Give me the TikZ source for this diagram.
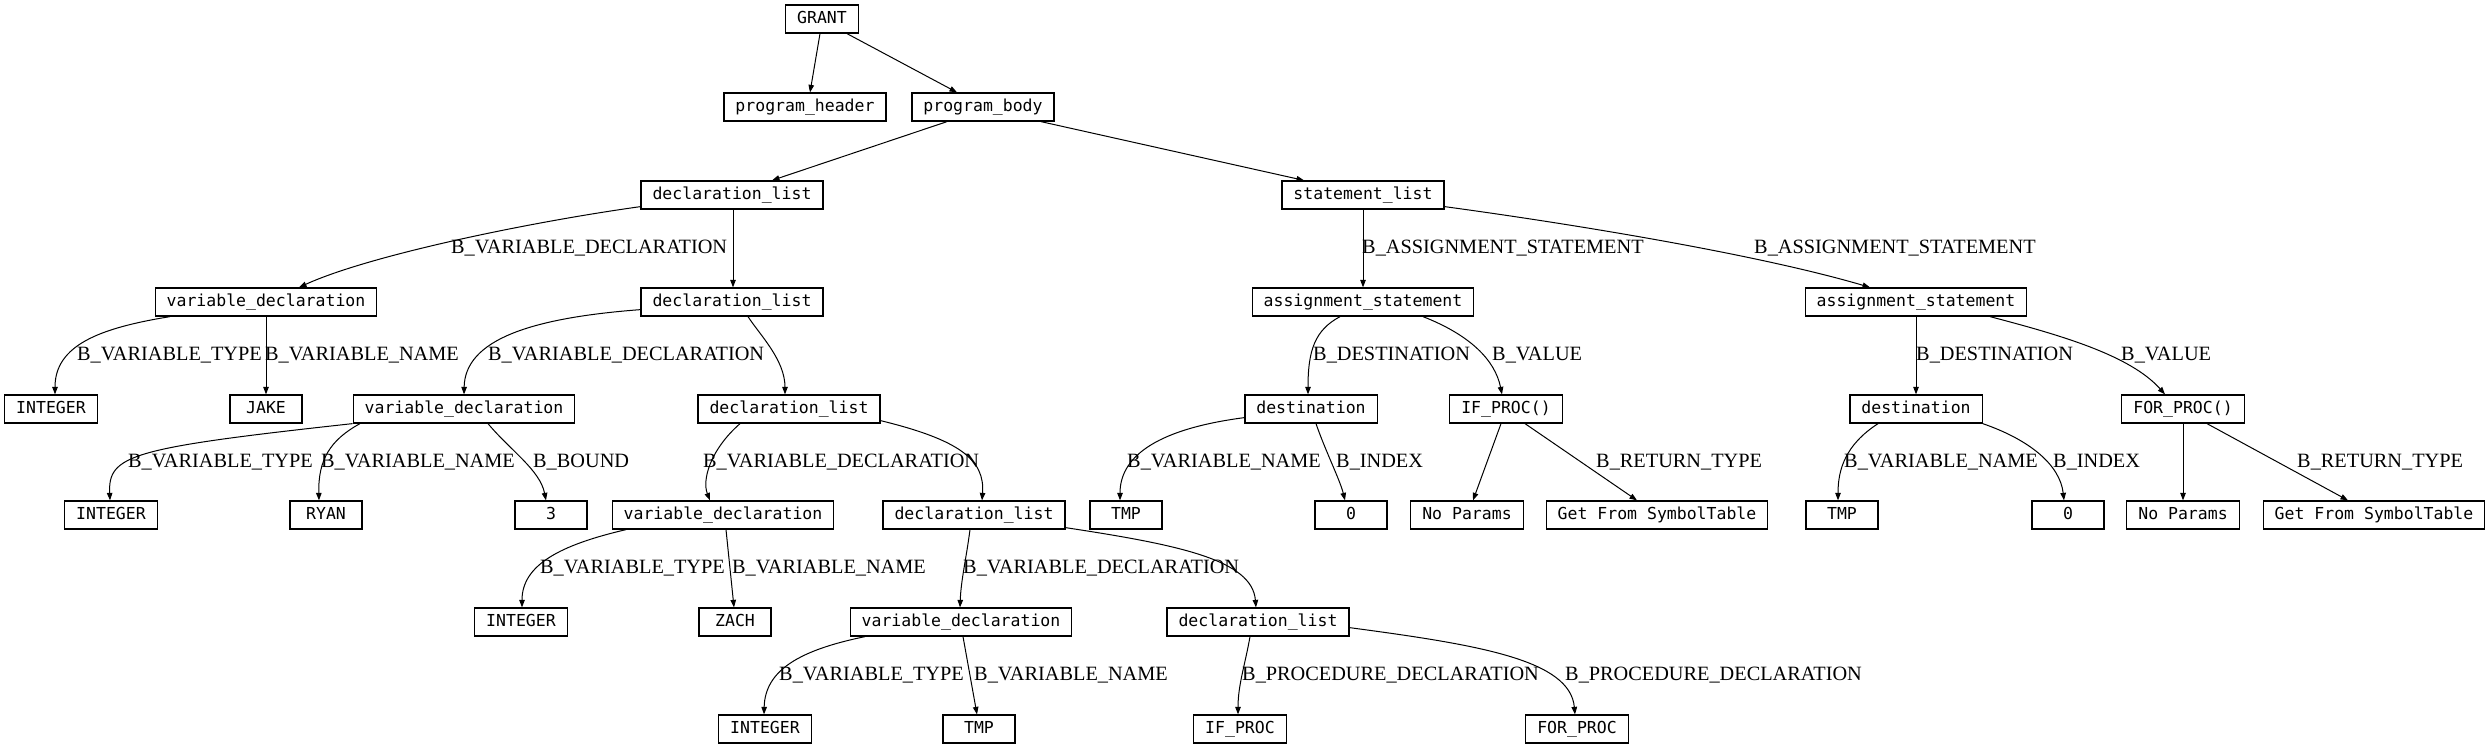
\documentclass[tikz,border=0pt]{standalone}
\usepackage{fontspec}
\setmainfont{Liberation Serif}
\newfontfamily\monofont{DejaVu Sans Mono}
\usetikzlibrary{arrows.meta}
\tikzset{
 tn/.style={draw, line width=1.25pt, rectangle, minimum width=72pt, minimum height=28pt, inner xsep=11.5pt, inner ysep=0pt, font=\monofont\fontsize{16.5}{20}\selectfont, text height=12pt, text depth=4pt},
 lbl/.style={anchor=base west, inner sep=0pt, font=\fontsize{20.3}{24}\selectfont},
 edge/.style={line width=1pt, -{Triangle[length=7.5pt,width=5.5pt]}},
}
\begin{document}
\begin{tikzpicture}[x=1pt,y=-1pt]
\useasboundingbox (0,0) rectangle (2492,748);
% nodes
\node[tn] (grant) at (822,19) {GRANT};
\node[tn] (ph) at (805,107) {program\_header};
\node[tn] (pb) at (983,107) {program\_body};
\node[tn] (dl1) at (732,195) {declaration\_list};
\node[tn] (sl) at (1363,195) {statement\_list};
\node[tn] (vd1) at (266,302) {variable\_declaration};
\node[tn] (dl2) at (732,302) {declaration\_list};
\node[tn] (as1) at (1363,302) {assignment\_statement};
\node[tn] (as2) at (1916,302) {assignment\_statement};
\node[tn] (int1) at (51,409) {INTEGER};
\node[tn] (jake) at (266,409) {JAKE};
\node[tn] (vd2) at (464,409) {variable\_declaration};
\node[tn] (dl3) at (789,409) {declaration\_list};
\node[tn] (dest1) at (1311,409) {destination};
\node[tn] (ifp) at (1506,409) {IF\_PROC()};
\node[tn] (dest2) at (1916,409) {destination};
\node[tn] (forp) at (2183,409) {FOR\_PROC()};
\node[tn] (int2) at (111,515) {INTEGER};
\node[tn] (ryan) at (326,515) {RYAN};
\node[tn] (three) at (551,515) {3};
\node[tn] (vd3) at (723,515) {variable\_declaration};
\node[tn] (dl4) at (974,515) {declaration\_list};
\node[tn] (tmp1) at (1126,515) {TMP};
\node[tn] (zero1) at (1351,515) {0};
\node[tn] (np1) at (1467,515) {No Params};
\node[tn] (gfst1) at (1657,515) {Get From SymbolTable};
\node[tn] (tmp2) at (1842,515) {TMP};
\node[tn] (zero2) at (2068,515) {0};
\node[tn] (np2) at (2183,515) {No Params};
\node[tn] (gfst2) at (2374,515) {Get From SymbolTable};
\node[tn] (int3) at (521,622) {INTEGER};
\node[tn] (zach) at (735,622) {ZACH};
\node[tn] (vd4) at (961,622) {variable\_declaration};
\node[tn] (dl5) at (1258,622) {declaration\_list};
\node[tn] (int4) at (765,729) {INTEGER};
\node[tn] (tmp3) at (979,729) {TMP};
\node[tn] (ifproc) at (1240,729) {IF\_PROC};
\node[tn] (forproc) at (1577,729) {FOR\_PROC};
% edges
\draw[edge] ([xshift=-2pt]grant.south) -- ([xshift=5pt]ph.north);
\draw[edge] ([xshift=25pt]grant.south) -- ([xshift=-26pt]pb.north);
\draw[edge] ([xshift=-36pt]pb.south) -- ([xshift=40pt]dl1.north);
\draw[edge] ([xshift=58pt]pb.south) -- ([xshift=-59pt]sl.north);
\draw[edge] ([yshift=3pt]dl1.south west) .. controls (530,222) and (370,255) .. ([xshift=33pt]vd1.north);
\draw[edge] ([xshift=1pt]dl1.south) -- ([xshift=1pt]dl2.north);
\draw[edge] ([xshift=-96pt]vd1.south) .. controls (100,328) and (55,345) .. ([xshift=4pt]int1.north);
\draw[edge] (vd1.south) -- (jake.north);
\draw[edge] ([yshift=7pt]dl2.south west) .. controls (530,318) and (465,340) .. (vd2.north);
\draw[edge] ([xshift=16pt]dl2.south) .. controls (760,335) and (785,360) .. ([xshift=-4pt]dl3.north);
\draw[edge] (vd2.south west) .. controls (130,448) and (108,455) .. ([xshift=-1pt]int2.north);
\draw[edge] ([xshift=-104pt]vd2.south) .. controls (330,440) and (318,460) .. ([xshift=-7pt]ryan.north);
\draw[edge] ([xshift=24pt]vd2.south) .. controls (510,450) and (540,470) .. ([xshift=-5pt]three.north);
\draw[edge] ([xshift=-49pt]dl3.south) .. controls (710,450) and (702,480) .. ([xshift=-13pt]vd3.north);
\draw[edge] ([yshift=3pt]dl3.south east) .. controls (960,440) and (985,460) .. ([xshift=8pt]dl4.north);
\draw[edge] ([xshift=-97pt]vd3.south) .. controls (560,545) and (522,565) .. ([xshift=1pt]int3.north);
\draw[edge] ([xshift=3pt]vd3.south) -- ([xshift=-1pt]zach.north);
\draw[edge] ([xshift=-4pt]dl4.south) .. controls (966,560) and (961,580) .. ([xshift=-1pt]vd4.north);
\draw[edge] ([yshift=2pt]dl4.south east) .. controls (1180,545) and (1252,560) .. ([xshift=-2pt]dl5.north);
\draw[edge] ([xshift=-96pt]vd4.south) .. controls (800,650) and (765,670) .. ([xshift=-1pt]int4.north);
\draw[edge] ([xshift=2pt]vd4.south) -- ([xshift=-2pt]tmp3.north);
\draw[edge] ([xshift=-8pt]dl5.south) .. controls (1245,665) and (1238,685) .. ([xshift=-2pt]ifproc.north);
\draw[edge] ([yshift=9pt]dl5.south east) .. controls (1480,645) and (1570,660) .. ([xshift=-2pt]forproc.north);
\draw[edge] (sl.south) -- (as1.north);
\draw[edge] ([yshift=3pt]sl.south east) .. controls (1580,225) and (1760,255) .. ([xshift=-46pt]as2.north);
\draw[edge] ([xshift=-23pt]as1.south) .. controls (1315,330) and (1308,350) .. ([xshift=-3pt]dest1.north);
\draw[edge] ([xshift=60pt]as1.south) .. controls (1470,335) and (1495,360) .. ([xshift=-4pt]ifp.north);
\draw[edge] (as2.south) -- (dest2.north);
\draw[edge] ([xshift=74pt]as2.south) .. controls (2060,335) and (2130,355) .. ([xshift=-18pt]forp.north);
\draw[edge] ([yshift=6pt]dest1.south west) .. controls (1150,430) and (1120,460) .. ([xshift=-6pt]tmp1.north);
\draw[edge] ([xshift=5pt]dest1.south) .. controls (1325,450) and (1340,480) .. ([xshift=-6pt]zero1.north);
\draw[edge] ([xshift=-5pt]ifp.south) -- ([xshift=6pt]np1.north);
\draw[edge] ([xshift=19pt]ifp.south) -- ([xshift=-20pt]gfst1.north);
\draw[edge] ([xshift=-38pt]dest2.south) .. controls (1845,445) and (1838,470) .. ([xshift=-4pt]tmp2.north);
\draw[edge] (dest2.south east) .. controls (2030,440) and (2060,465) .. ([xshift=-4pt]zero2.north);
\draw[edge] (forp.south) -- (np2.north);
\draw[edge] ([xshift=24pt]forp.south) -- ([xshift=-26pt]gfst2.north);
% labels
\node[lbl] (la1) at (451,253) {B\_VARIABLE\_DECLARATION};
\node[lbl] (la2) at (1362,253) {B\_ASSIGNMENT\_STATEMENT};
\node[lbl] (la3) at (1754,253) {B\_ASSIGNMENT\_STATEMENT};
\node[lbl] (lb1) at (77,360) {B\_VARIABLE\_TYPE};
\node[lbl] (lb2) at (265,360) {B\_VARIABLE\_NAME};
\node[lbl] (lb3) at (488,360) {B\_VARIABLE\_DECLARATION};
\node[lbl] (lb4) at (1313,360) {B\_DESTINATION};
\node[lbl] (lb5) at (1492,360) {B\_VALUE};
\node[lbl] (lb6) at (1916,360) {B\_DESTINATION};
\node[lbl] (lb7) at (2121,360) {B\_VALUE};
\node[lbl] (lc1) at (128,467) {B\_VARIABLE\_TYPE};
\node[lbl] (lc2) at (321,467) {B\_VARIABLE\_NAME};
\node[lbl] (lc3) at (533,467) {B\_BOUND};
\node[lbl] (lc4) at (703,467) {B\_VARIABLE\_DECLARATION};
\node[lbl] (lc5) at (1127,467) {B\_VARIABLE\_NAME};
\node[lbl] (lc6) at (1336,467) {B\_INDEX};
\node[lbl] (lc7) at (1596,467) {B\_RETURN\_TYPE};
\node[lbl] (lc8) at (1844,467) {B\_VARIABLE\_NAME};
\node[lbl] (lc9) at (2053,467) {B\_INDEX};
\node[lbl] (lc10) at (2297,467) {B\_RETURN\_TYPE};
\node[lbl] (ld1) at (540,573) {B\_VARIABLE\_TYPE};
\node[lbl] (ld2) at (732,573) {B\_VARIABLE\_NAME};
\node[lbl] (ld3) at (963,573) {B\_VARIABLE\_DECLARATION};
\node[lbl] (le1) at (779,680) {B\_VARIABLE\_TYPE};
\node[lbl] (le2) at (974,680) {B\_VARIABLE\_NAME};
\node[lbl] (le3) at (1242,680) {B\_PROCEDURE\_DECLARATION};
\node[lbl] (le4) at (1565,680) {B\_PROCEDURE\_DECLARATION};
\end{tikzpicture}
\end{document}
